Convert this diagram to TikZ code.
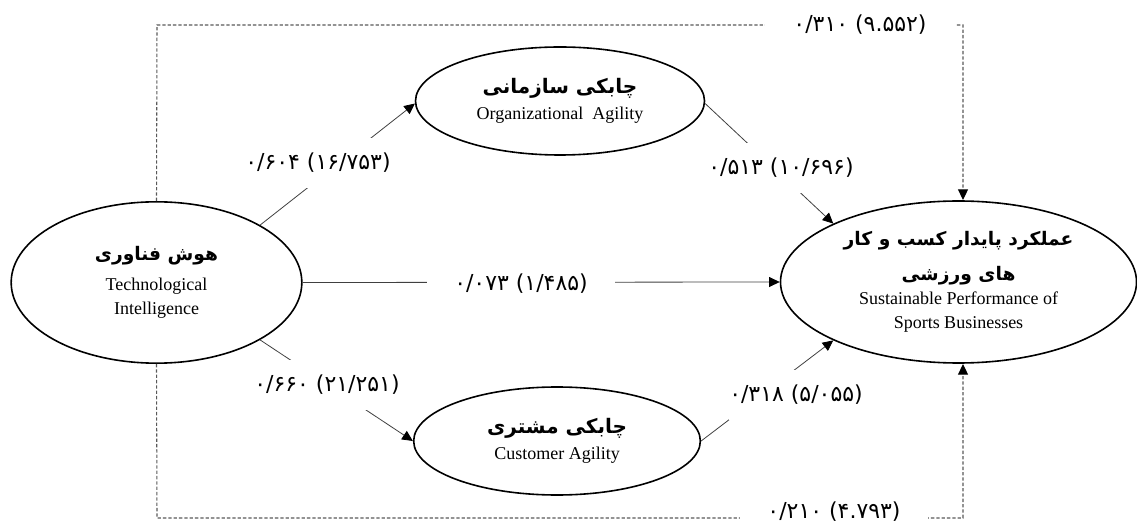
\documentclass[tikz,border=0pt]{standalone}
\usepackage{fontspec}
\setmainfont{Liberation Serif}
\newfontfamily\fa[Script=Arabic]{DejaVu Sans}
\newfontfamily\fadig{DejaVu Sans}
\TeXXeTstate=1
\usetikzlibrary{shapes.geometric,arrows.meta}
\begin{document}
\begin{tikzpicture}[x=0.75pt,y=-0.75pt,
  ell/.style={ellipse,draw=black,line width=1.2pt,inner sep=0pt,align=center,
    font=\fontsize{13.5}{18}\selectfont},
  conn/.style={draw=black!75,line width=0.6pt,-{Triangle[length=8pt,width=7.5pt,color=black]}},
  dconn/.style={draw=black!65,line width=0.8pt,dash pattern=on 2.5pt off 1.5pt,
    -{Triangle[length=8pt,width=7.5pt,color=black]}},
  lab/.style={fill=white,inner sep=0pt,font=\fadig\fontsize{16.5}{18}\selectfont}]
\useasboundingbox (0,0) rectangle (1137,523);
% ellipses
\node[ell,minimum width=218pt,minimum height=121pt] (TI) at (156.5,282.5)
  {{\fa\bfseries\fontsize{14}{24}\selectfont\beginR هوش فناوری\endR}\\[4pt] Technological\\ Intelligence};
\node[ell,minimum width=216.75pt,minimum height=81pt] (OA) at (560,101)
  {{\fa\bfseries\fontsize{15}{24}\selectfont\beginR چابکی سازمانی\endR}\\[1pt] Organizational\ \ Agility};
\node[ell,minimum width=215pt,minimum height=81pt] (CA) at (557,441)
  {{\fa\bfseries\fontsize{15}{24}\selectfont\beginR چابکی مشتری\endR}\\[1pt] Customer Agility};
\node[ell,minimum width=267pt,minimum height=121.5pt] (SP) at (958.5,282)
  {{\fa\bfseries\fontsize{14}{24}\selectfont\beginR عملکرد پایدار کسب و کار\endR}\\[8pt]
   {\fa\bfseries\fontsize{14}{24}\selectfont\beginR های ورزشی\endR}\\[0pt]
   Sustainable Performance of\\ Sports Businesses};
% solid connectors
\draw[conn] (TI.29) -- (OA.181);
\draw[conn] (OA.-1) -- (SP.155.7);
\draw[conn] (TI.east) -- (SP.west);
\draw[conn] (TI.-29.5) -- (CA.180);
\draw[conn] (CA.0) -- (SP.205.9);
% dashed connectors
\coordinate (topL) at (157,25);
\coordinate (topR) at (963,25);
\coordinate (botL) at (157,518);
\coordinate (botR) at (963,518);
\coordinate (spT) at (963,200);
\coordinate (spB) at (963,364);
\draw[dconn] (TI.north) -- (topL) -- (topR) -- (spT);
\draw[dconn] (TI.south) -- (botL) -- (botR) -- (spB);
% labels
\node[lab,minimum height=38pt] (l1) at (318,163) {\beginL ۰/۶۰۴ (۱۶/۷۵۳)\endL{}};
\node[lab,minimum height=38pt] (l2) at (781,168) {\beginL ۰/۵۱۳ (۱۰/۶۹۶)\endL{}};
\node[lab,minimum height=38pt,minimum width=141pt] (l3) at (521,284) {\beginL ۰/۰۷۳ (۱/۴۸۵)\endL{}};
\node[lab,minimum height=38pt] (l4) at (327,385) {\beginL ۰/۶۶۰ (۲۱/۲۵۱)\endL{}};
\node[lab,minimum height=38pt] (l5) at (796,395) {\beginL ۰/۳۱۸ (۵/۰۵۵)\endL{}};
\node[lab,minimum height=18pt,minimum width=142.5pt] (l6) at (860,25) {\beginL ۰/۳۱۰ (۹.۵۵۲)\endL{}};
\node[lab,minimum height=18pt,minimum width=141pt] (l7) at (834,512) {\beginL ۰/۲۱۰ (۴.۷۹۳)\endL{}};
\end{tikzpicture}
\end{document}
